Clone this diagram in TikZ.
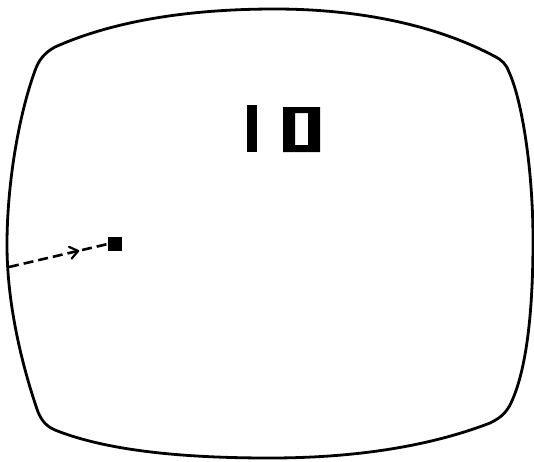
\documentclass[tikz,border=0pt]{standalone}
\usetikzlibrary{decorations.markings}
\begin{document}
\begin{tikzpicture}[x=1pt,y=-1pt,
  screen/.style={line width=2.8pt,line join=round},
  digit/.style={fill=black},
  ballbox/.style={fill=black,minimum size=14pt,inner sep=0pt,draw=none},
  trajectory/.style={line width=2.6pt,dash pattern=on 10pt off 5pt,
    decoration={markings,mark=at position 0.70 with {\draw[solid,line width=2.2pt,line cap=round,line join=round] (-8pt,-6pt) -- (0,0) -- (-8pt,6pt);}},postaction={decorate}}]
\useasboundingbox (0,0) rectangle (534,461);
\fill[white] (0,0) rectangle (534,461);
% screen outline
\draw[screen] (55,47) .. controls (120,18) and (200,9) .. (275,9)
  .. controls (350,9) and (430,22) .. (494,56)
  .. controls (502,60) and (506,64) .. (509,72)
  .. controls (522,100) and (533,170) .. (533,240)
  .. controls (533,320) and (525,375) .. (510,405)
  .. controls (505,414) and (500,418) .. (490,423)
  .. controls (420,450) and (340,458) .. (270,458)
  .. controls (190,458) and (110,452) .. (55,430)
  .. controls (46,426) and (42,421) .. (38,412)
  .. controls (20,360) and (7,300) .. (7,245)
  .. controls (7,180) and (20,110) .. (36,68)
  .. controls (40,58) and (46,52) .. (55,47) -- cycle;
% score "10"
\fill[digit] (247,105) rectangle (257,152);
\fill[digit,even odd rule] (283,107) rectangle (320,152) (295,113) rectangle (308,145);
% ball and trajectory
\node[ballbox] (ball) at (115,244) {};
\coordinate (start) at (9,267);
\draw[trajectory] (start) -- (ball.west);
\end{tikzpicture}
\end{document}
